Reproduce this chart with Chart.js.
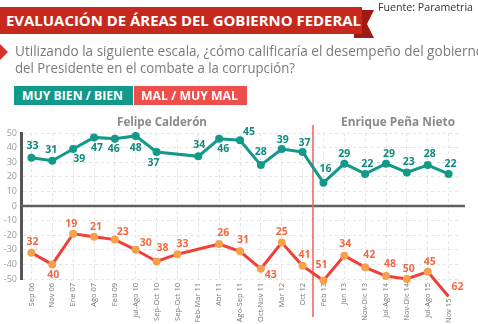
<!DOCTYPE html>
<html><head><meta charset="utf-8">
<script src="https://cdn.jsdelivr.net/npm/chart.js@4"></script>
<style>
html,body{margin:0;padding:0;width:478px;height:324px;overflow:hidden;background:#fff;font-family:"Open Sans",sans-serif;}
#wrap{position:relative;width:478px;height:324px;overflow:hidden;}
canvas{position:absolute;left:0;top:0;}
.abs{position:absolute;white-space:nowrap;transform-origin:0 0;}
#tail{position:absolute;left:354px;top:10px;width:20px;height:28px;background:#9e1a12;clip-path:polygon(0 0,100% 0,65% 50%,100% 100%,0 100%);}
#banner{position:absolute;left:0;top:7px;width:362px;height:27px;background:#c7281e;}
#title{left:6px;top:10px;color:#fff;font-weight:700;font-size:15px;}
#fuente{left:378px;top:-1px;color:#333;font-size:11px;}
#tri{position:absolute;left:0;top:44px;width:0;height:0;border-top:8px solid transparent;border-bottom:8px solid transparent;border-left:8px solid #d8332a;}
.q{color:#7a7a7a;font-size:14px;font-weight:400;}
#q1{left:15px;top:41px;}
#q2{left:15px;top:58px;}
.box{position:absolute;top:86px;height:19px;}
#boxG{left:14px;width:119px;background:#12998a;}
#boxR{left:134px;width:113px;background:#ef4f4c;}
.lg{color:#fff;font-weight:700;font-size:12px;top:86px;line-height:19px;}
#lgG{left:22px;}
#lgR{left:141px;}
.pres{color:#8a8a8a;font-weight:700;font-size:13px;top:112px;}
#fc{left:117px;}
#epn{left:341px;}
</style></head>
<body><div id="wrap">
<canvas id="c" width="478" height="324"></canvas>
<div id="tail"></div><div id="banner"></div>
<div class="abs" id="title">EVALUACIÓN DE ÁREAS DEL GOBIERNO FEDERAL</div>
<div class="abs" id="fuente">Fuente: Parametria</div>
<div id="tri"></div>
<div class="abs q" id="q1">Utilizando la siguiente escala, ¿cómo calificaría el desempeño del gobierno</div>
<div class="abs q" id="q2">del Presidente en el combate a la corrupción?</div>
<div class="box" id="boxG"></div><div class="box" id="boxR"></div>
<div class="abs lg" id="lgG">MUY BIEN / BIEN</div>
<div class="abs lg" id="lgR">MAL / MUY MAL</div>
<div class="abs pres" id="fc">Felipe Calderón</div>
<div class="abs pres" id="epn">Enrique Peña Nieto</div>
</div>
<script>
const categories = ['Sep 06','Nov 06','Ene 07','Ago 07','Feb 09','Jul-Ago 10','Sep-Oct 10','Sep-Oct 10','Feb-Mar 11','Abr 11','Ago-Sep 11','Oct-Nov 11','Mar 12','Oct 12','Feb 13','Jun 13','Nov-Dic 13','Jul-Ago 14','Nov-Dic 14','Jul-Ago 15','Nov 15'];
const muyBienBien = [33,31,39,47,46,48,37,null,34,46,45,28,39,37,16,29,22,29,23,28,22];
const malMuyMal = [32,40,19,21,23,30,38,33,null,26,31,43,25,41,51,34,42,48,50,45,62];
const yTickValues = [50,40,30,20,10,0,-10,-20,-30,-40,-50];
const periodSplitAfter = 'Oct 12';

// label offsets (dx, dy) relative to each point
const greenLabelOffsets = [[1,-12],[-1,-11],[6,10],[3,11],[-1,10],[0,12],[-3,11],null,[1,-11],[4,10],[9,-8],[0,-13],[1,-9],[2,-9],[2,-14],[0,-10],[2,-10],[3,-10],[2,-10],[2,-11],[2,-10]];
const redLabelOffsets = [[1,-11],[1,11],[-2,-10],[2,-10],[8,-8],[10,-7],[6,-13],[5,-10],null,[4,-11],[3,-11],[10,6],[0,-10],[2,-11],[-2,-15],[1,-12],[4,-12],[4,-12],[2,-10],[2,-10],[9,-10]];

const GREEN='#12998a', GREEN_TXT='#0f8a7c', RED='#ef4038', RED_PT='#f6a04c', RED_TXT='#f06a44';

const extras = {
  id:'extras',
  beforeDatasetsDraw(chart){
    const {ctx, chartArea:a, scales:{x,y}} = chart;
    const y0 = y.getPixelForValue(0);
    ctx.save();
    ctx.strokeStyle='#606060'; ctx.lineWidth=2.5;
    ctx.beginPath(); ctx.moveTo(a.left, y0); ctx.lineTo(a.right+6, y0); ctx.stroke();
    const i = categories.indexOf(periodSplitAfter);
    const xs = (x.getPixelForValue(i)+x.getPixelForValue(i+1))/2;
    ctx.strokeStyle='#f0605c'; ctx.lineWidth=1.5;
    ctx.beginPath(); ctx.moveTo(xs, 125); ctx.lineTo(xs, 317); ctx.stroke();
    ctx.restore();
  },
  afterDatasetsDraw(chart){
    const {ctx} = chart;
    ctx.save();
    ctx.font = '700 10.5px "Open Sans"';
    ctx.textAlign='center'; ctx.textBaseline='middle';
    const sets = [[0, muyBienBien, greenLabelOffsets, GREEN_TXT],[1, malMuyMal, redLabelOffsets, RED_TXT]];
    sets.forEach(([di, vals, offs, col])=>{
      const meta = chart.getDatasetMeta(di);
      ctx.fillStyle = col;
      meta.data.forEach((pt, k)=>{
        if (vals[k]==null || !offs[k]) return;
        ctx.fillText(String(vals[k]), pt.x+offs[k][0], pt.y+offs[k][1]);
      });
    });
    ctx.restore();
  }
};

new Chart(document.getElementById('c'), {
  type:'line',
  data:{
    labels: categories,
    datasets:[
      {data: muyBienBien, borderColor:GREEN, backgroundColor:GREEN, borderWidth:3, pointRadius:4, pointBackgroundColor:GREEN, pointBorderWidth:0, spanGaps:true, tension:0, clip:false},
      {data: malMuyMal.map(v=>v==null?null:-v), borderColor:RED, backgroundColor:RED_PT, borderWidth:3, pointRadius:4, pointBackgroundColor:RED_PT, pointBorderWidth:0, spanGaps:true, tension:0, clip:false}
    ]
  },
  options:{
    responsive:false, animation:false, devicePixelRatio:1,
    layout:{padding:{top:133, right:19, left:0, bottom:0}},
    plugins:{legend:{display:false}, tooltip:{enabled:false}},
    scales:{
      x:{
        offset:true,
        grid:{offset:false, color:'#e4e4e4', lineWidth:1, drawTicks:false},
        border:{display:false, dash:[3,3]},
        ticks:{color:'#777', font:{family:'Open Sans', size:7.5}, maxRotation:90, minRotation:90, autoSkip:false, padding:4,
          callback(v, i){ const l = categories[i]; return i === categories.length-1 ? l + '        ' : l; }},
        afterFit(s){ s.height = 45; }
      },
      y:{
        min:-50, max:50,
        afterBuildTicks(s){ s.ticks = yTickValues.map(v=>({value:v})); },
        grid:{color:(c)=>c.tick && c.tick.value===0 ? 'rgba(0,0,0,0)' : '#e4e4e4', lineWidth:1, drawTicks:false},
        border:{display:true, color:'#555', width:3, dash:[3,3]},
        ticks:{color:'#9a9a9a', font:{family:'Open Sans', size:9}, padding:4},
        afterFit(s){ s.width = 21; }
      }
    }
  },
  plugins:[extras]
});

function fit(id, w){
  const el = document.getElementById(id);
  el.style.transform='none';
  const r = el.getBoundingClientRect().width;
  if (r>0) el.style.transform = 'scaleX('+(w/r)+')';
}
function fitAll(){
  fit('title',355); fit('fuente',95); fit('q1',469); fit('q2',280);
  fit('lgG',101); fit('lgR',97); fit('fc',90); fit('epn',114);
}
fitAll();
if (document.fonts && document.fonts.ready) document.fonts.ready.then(fitAll);
</script>
</body></html>
